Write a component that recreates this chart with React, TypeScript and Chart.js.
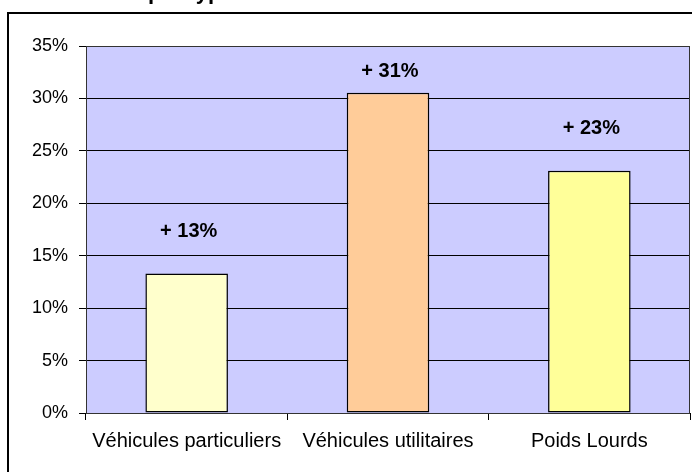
import React, { useEffect, useRef } from "react";
import { Chart, registerables } from "chart.js";

Chart.register(...registerables);

const categories = ["Véhicules particuliers", "Véhicules utilitaires", "Poids Lourds"];
const values = [13.3, 30.55, 23.1];
const valueLabels = ["+ 13%", "+ 31%", "+ 23%"];
const labelPositions = [17.3, 32.6, 27.1];
const barColors = ["#FFFFCC", "#FFCC99", "#FFFF99"];
const yMin = 0;
const yMax = 35;
const yStep = 5;
const titleFragment = "par type";

const FONT = "'Liberation Sans', Arial, sans-serif";

export default function App() {
  const ref = useRef<HTMLCanvasElement | null>(null);

  useEffect(() => {
    document.body.style.margin = "0";
    const canvas = ref.current;
    if (!canvas) return;

    const decor = {
      id: "decor",
      beforeDraw(chart: any) {
        const { ctx, chartArea } = chart;
        ctx.save();
        ctx.fillStyle = "#FFFFFF";
        ctx.fillRect(0, 0, chart.width, chart.height);
        ctx.fillStyle = "#CCCCFF";
        ctx.fillRect(chartArea.left, chartArea.top, chartArea.right - chartArea.left, chartArea.bottom - chartArea.top);
        // title fragment (cut off at top)
        ctx.fillStyle = "#000";
        ctx.font = `bold 22px ${FONT}`;
        ctx.textAlign = "left";
        ctx.textBaseline = "alphabetic";
        ctx.fillText(titleFragment, 148, -1);
        // outer border
        ctx.strokeStyle = "#000";
        ctx.lineWidth = 2;
        ctx.strokeRect(8, 13, 800, 600);
        ctx.restore();
      },
      afterDatasetsDraw(chart: any) {
        const { ctx, chartArea } = chart;
        const meta = chart.getDatasetMeta(0);
        const y = chart.scales.y;
        ctx.save();
        ctx.strokeStyle = "#333";
        ctx.lineWidth = 1;
        ctx.strokeRect(chartArea.left + 0.5, chartArea.top + 0.5, chartArea.right - chartArea.left - 1, chartArea.bottom - chartArea.top);
        ctx.fillStyle = "#000";
        ctx.font = `bold 20px ${FONT}`;
        ctx.textAlign = "center";
        ctx.textBaseline = "middle";
        meta.data.forEach((bar: any, i: number) => {
          ctx.fillText(valueLabels[i], bar.x + 2, y.getPixelForValue(labelPositions[i]));
        });
        ctx.restore();
      },
    };

    const chart = new Chart(canvas, {
      type: "bar",
      data: {
        labels: categories,
        datasets: [
          {
            data: values,
            backgroundColor: barColors,
            borderColor: "#000",
            borderWidth: 1.5,
            borderSkipped: false,
            categoryPercentage: 1,
            barPercentage: 0.41,
          },
        ],
      },
      options: {
        animation: false,
        responsive: false,
        layout: { padding: { top: 46, right: 2, left: 0, bottom: 0 } },
        plugins: { legend: { display: false }, tooltip: { enabled: false }, title: { display: false } },
        scales: {
          x: {
            grid: { drawOnChartArea: false, drawTicks: true, tickLength: 7, color: "#000", offset: true },
            border: { display: true, color: "#000" },
            ticks: { color: "#000", font: { family: FONT, size: 20 }, padding: 9, maxRotation: 0 },
            afterFit(scale: any) {
              scale.height = 59;
            },
          },
          y: {
            min: yMin,
            max: yMax,
            ticks: {
              stepSize: yStep,
              color: "#000",
              font: { family: FONT, size: 18 },
              padding: 11,
              callback: (v: any) => v + "%",
            },
            grid: { color: "#000", lineWidth: 1, tickLength: 7 },
            border: { display: true, color: "#000" },
            afterFit(scale: any) {
              scale.width = 86;
            },
          },
        },
      },
      plugins: [decor],
    });
    return () => chart.destroy();
  }, []);

  return <canvas ref={ref} width={692} height={472} style={{ display: "block" }} />;
}
